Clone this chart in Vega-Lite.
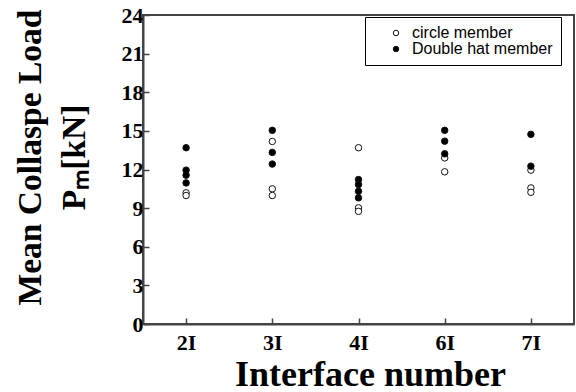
{
  "$schema": "https://vega.github.io/schema/vega-lite/v6.json",
  "width": 431,
  "height": 309,
  "autosize": {"type": "none"},
  "padding": {"left": 143, "top": 15, "right": 2, "bottom": 68},
  "background": "white",
  "config": {
    "view": {"stroke": "#444444", "strokeWidth": 2},
    "axis": {"grid": false}
  },
  "data": {
    "values": [
      {"interface": "2I", "type": "circle member", "load": 10.19},
      {"interface": "2I", "type": "circle member", "load": 9.98},
      {"interface": "2I", "type": "Double hat member", "load": 13.69},
      {"interface": "2I", "type": "Double hat member", "load": 11.95},
      {"interface": "2I", "type": "Double hat member", "load": 11.56},
      {"interface": "2I", "type": "Double hat member", "load": 10.96},
      {"interface": "3I", "type": "circle member", "load": 14.18},
      {"interface": "3I", "type": "circle member", "load": 10.5},
      {"interface": "3I", "type": "circle member", "load": 9.98},
      {"interface": "3I", "type": "Double hat member", "load": 15.04},
      {"interface": "3I", "type": "Double hat member", "load": 13.33},
      {"interface": "3I", "type": "Double hat member", "load": 12.42},
      {"interface": "4I", "type": "circle member", "load": 13.69},
      {"interface": "4I", "type": "circle member", "load": 9.02},
      {"interface": "4I", "type": "circle member", "load": 8.75},
      {"interface": "4I", "type": "Double hat member", "load": 11.22},
      {"interface": "4I", "type": "Double hat member", "load": 10.83},
      {"interface": "4I", "type": "Double hat member", "load": 10.31},
      {"interface": "4I", "type": "Double hat member", "load": 9.8},
      {"interface": "6I", "type": "circle member", "load": 12.9},
      {"interface": "6I", "type": "circle member", "load": 11.82},
      {"interface": "6I", "type": "Double hat member", "load": 15.04},
      {"interface": "6I", "type": "Double hat member", "load": 14.2},
      {"interface": "6I", "type": "Double hat member", "load": 13.22},
      {"interface": "7I", "type": "circle member", "load": 11.95},
      {"interface": "7I", "type": "circle member", "load": 10.57},
      {"interface": "7I", "type": "circle member", "load": 10.23},
      {"interface": "7I", "type": "Double hat member", "load": 14.73},
      {"interface": "7I", "type": "Double hat member", "load": 12.26}
    ]
  },
  "mark": {"type": "point", "filled": true, "stroke": "#111111", "strokeWidth": 1, "size": 42, "opacity": 1},
  "encoding": {
    "x": {
      "field": "interface",
      "type": "ordinal",
      "sort": ["2I", "3I", "4I", "6I", "7I"],
      "scale": {"type": "point", "padding": 0.5},
      "axis": {
        "title": "Interface number",
        "titleFont": "Liberation Serif",
        "titleFontWeight": "bold",
        "titleFontSize": 36,
        "titleColor": "black",
        "titleAlign": "center",
        "titleBaseline": "alphabetic",
        "titleX": 227,
        "titleY": 61,
        "labelFont": "Liberation Serif",
        "labelFontWeight": "bold",
        "labelFontSize": 22,
        "labelColor": "black",
        "labelAngle": 0,
        "labelPadding": 14,
        "tickSize": -6,
        "tickColor": "#444444",
        "tickWidth": 1.5,
        "domainColor": "#444444",
        "domainWidth": 2
      }
    },
    "y": {
      "field": "load",
      "type": "quantitative",
      "scale": {"domain": [0, 24], "nice": false},
      "axis": {
        "values": [0, 3, 6, 9, 12, 15, 18, 21, 24],
        "title": ["Mean Collaspe Load", "Pₘ[kN]"],
        "titleFont": "Liberation Serif",
        "titleFontWeight": "bold",
        "titleFontSize": 33.5,
        "titleLineHeight": 44,
        "titleColor": "black",
        "titleAngle": 270,
        "titleAlign": "center",
        "titleBaseline": "top",
        "titleX": -129,
        "titleY": 142,
        "labelFont": "Liberation Serif",
        "labelFontWeight": "bold",
        "labelFontSize": 22,
        "labelColor": "black",
        "labelPadding": 6,
        "tickSize": -6,
        "tickColor": "#444444",
        "tickWidth": 1.5,
        "domainColor": "#444444",
        "domainWidth": 2
      }
    },
    "fill": {
      "field": "type",
      "type": "nominal",
      "scale": {"domain": ["circle member", "Double hat member"], "range": ["white", "black"]},
      "legend": {
        "title": null,
        "orient": "none",
        "legendX": 222,
        "legendY": 2,
        "strokeColor": "black",
        "fillColor": "white",
        "padding": 8,
        "symbolOffset": 15,
        "symbolSize": 30,
        "symbolStrokeColor": "#111111",
        "symbolStrokeWidth": 1,
        "symbolOpacity": 1,
        "labelFont": "Liberation Sans",
        "labelFontSize": 16,
        "labelColor": "black",
        "labelOffset": 8,
        "rowPadding": 0
      }
    }
  }
}
